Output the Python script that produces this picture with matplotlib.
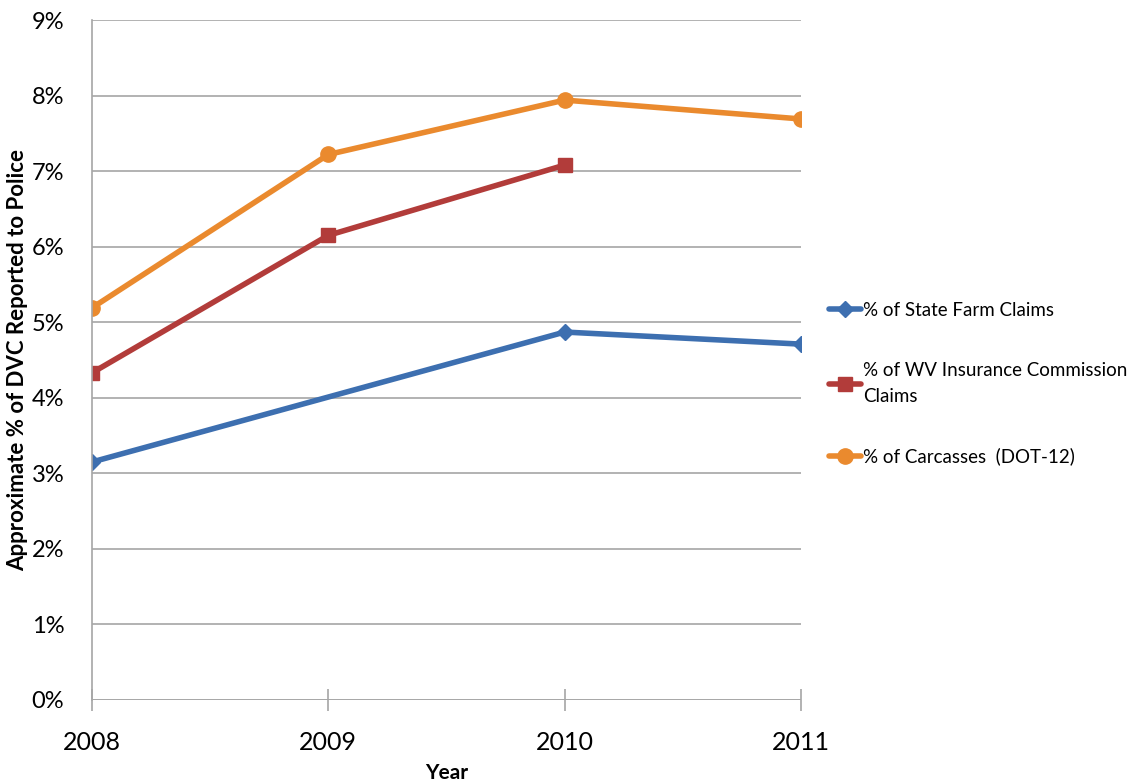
import matplotlib.pyplot as plt
import numpy as np

plt.rcParams['font.family'] = ['Lato', 'DejaVu Sans']

years = [2008, 2009, 2010, 2011]
state_farm = [3.15, np.nan, 4.87, 4.71]
wv_insurance = [4.33, 6.15, 7.08, np.nan]
carcasses = [5.19, 7.22, 7.94, 7.69]

series = [
    ("% of State Farm Claims", state_farm, "#3d6fb0", "D", 8),
    ("% of WV Insurance Commission\nClaims", wv_insurance, "#b23c3a", "s", 10),
    ("% of Carcasses  (DOT-12)", carcasses, "#ea8a2e", "o", 11),
]

fig = plt.figure(figsize=(11.4, 7.84), dpi=100)
ax = fig.add_axes([92 / 1140, 1 - 700 / 784, (801 - 92) / 1140, 680 / 784])

for label, vals, color, marker, ms in series:
    x = np.array(years, dtype=float)
    y = np.array(vals, dtype=float)
    ok = ~np.isnan(y)
    ax.plot(x[ok], y[ok], color=color, lw=4, marker=marker, markersize=ms,
            label=label, solid_capstyle='round')

ax.set_xlim(2008, 2011)
ax.set_ylim(0, 9)
ax.set_xticks(years)
ax.set_yticks(range(0, 10))
ax.set_yticklabels([f"{v}%" for v in range(0, 10)])
ax.grid(axis='y', color='#a6a6a6', lw=1.2)
ax.set_axisbelow(True)
for s in ['top', 'right', 'bottom']:
    ax.spines[s].set_visible(False)
ax.axhline(0, color='#a6a6a6', lw=1.2, zorder=0)
ax.spines['left'].set_color('#a6a6a6')
ax.spines['left'].set_linewidth(1.2)
ax.tick_params(axis='x', direction='inout', length=16, width=1.2, color='#a6a6a6',
               labelsize=18, pad=14)
ax.tick_params(axis='y', length=0, labelsize=17, pad=20)

ax.set_xlabel("Year", fontsize=15, fontweight='bold')
ax.xaxis.set_label_coords(0.5, -0.093)
ax.set_ylabel("Approximate % of DVC Reported to Police", fontsize=16, fontweight='bold')
ax.yaxis.set_label_coords(-0.09, 0.5)

leg = ax.legend(loc='center left', bbox_to_anchor=(1.016, 0.465), frameon=False,
                fontsize=13.5, handlelength=1.7, handletextpad=0.1, labelspacing=2.3)
for t in leg.get_texts():
    t.set_linespacing(1.6)

fig.savefig("out.png", dpi=100)
